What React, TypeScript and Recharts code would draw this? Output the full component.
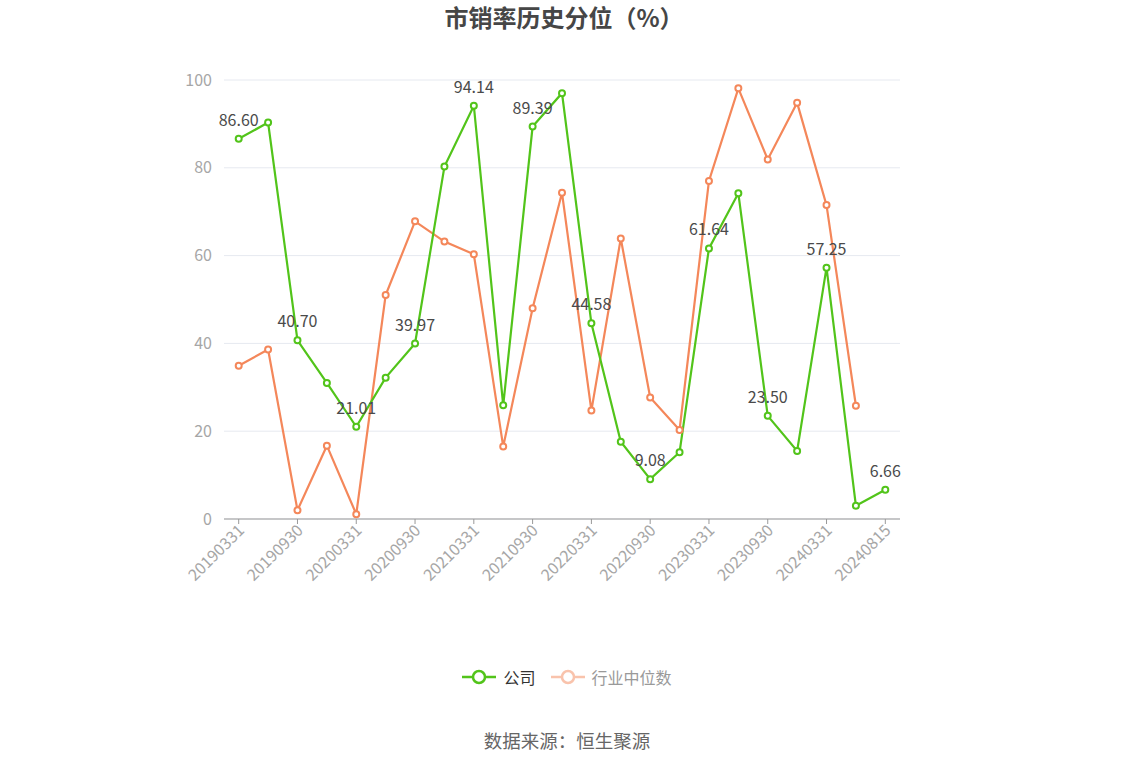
import React from 'react';
import { LineChart, Line, XAxis, YAxis, CartesianGrid } from 'recharts';

const dates = [
    '20190331', '20190630', '20190930', '20191231',
    '20200331', '20200630', '20200930', '20201231',
    '20210331', '20210630', '20210930', '20211231',
    '20220331', '20220630', '20220930', '20221231',
    '20230331', '20230630', '20230930', '20231231',
    '20240331', '20240630', '20240815',
];

const company = [
    86.6, 90.3, 40.7, 31.0, 21.01, 32.2, 39.97, 80.3,
    94.14, 25.9, 89.39, 97.0, 44.58, 17.6, 9.08, 15.2,
    61.64, 74.2, 23.5, 15.5, 57.25, 3.0, 6.66,
];

const industry = [
    34.9, 38.6, 2.0, 16.7, 1.1, 51.0, 67.8, 63.2,
    60.3, 16.5, 48.0, 74.3, 24.7, 63.9, 27.7, 20.3,
    77.0, 98.1, 81.9, 94.8, 71.5, 25.8, null,
];

const yTicks = [0, 20, 40, 60, 80, 100];

const GREEN = '#52c41a';
const ORANGE = '#f4875a';
const FONT = '"Noto Sans CJK SC", "Noto Sans", sans-serif';

const data = dates.map((d, i) => ({ date: d, company: company[i], industry: industry[i] }));

const DateTick = (props: any) => {
    const { x, y, payload } = props;
    return (
        <g transform={`translate(${x + 3},${y + 2})`}>
            <text textAnchor="end" fill="#a6a6a6" fontSize={16} fontFamily={FONT} transform="rotate(-45)" dy={5}>
                {payload.value}
            </text>
        </g>
    );
};

const ValueLabel = (props: any) => {
    const { x, y, index, value } = props;
    if (index % 2 !== 0) return null;
    return (
        <text x={x} y={y - 13} textAnchor="middle" fill="#4a4a4a" fontSize={16} fontFamily={FONT}>
            {Number(value).toFixed(2)}
        </text>
    );
};

const LegendIcon = ({ color }: { color: string }) => (
    <svg width={34} height={16} style={{ marginRight: 7 }}>
        <line x1={0} y1={8} x2={34} y2={8} stroke={color} strokeWidth={2.5} />
        <circle cx={17} cy={8} r={6} fill="#fff" stroke={color} strokeWidth={2.5} />
    </svg>
);

export default function App() {
    return (
        <div style={{ position: 'absolute', left: 0, top: 0, width: 1134, height: 766, background: '#fff', fontFamily: FONT }}>
            <div style={{ position: 'absolute', top: -1, left: 0, width: 1128, textAlign: 'center', fontSize: 24, fontWeight: 'bold', color: '#464646' }}>
                市销率历史分位（%）
            </div>
            <LineChart
                width={1134}
                height={766}
                data={data}
                margin={{ top: 80, right: 234, left: 164, bottom: 167 }}
            >
                <CartesianGrid vertical={false} stroke="#e6e9f0" />
                <XAxis
                    dataKey="date"
                    interval={1}
                    height={80}
                    padding={{ left: 14.7, right: 14.7 }}
                    tick={<DateTick />}
                    tickSize={5}
                    axisLine={{ stroke: '#999' }}
                    tickLine={{ stroke: '#999' }}
                />
                <YAxis
                    width={60}
                    domain={[0, 100]}
                    ticks={yTicks}
                    axisLine={false}
                    tickLine={false}
                    tickMargin={6}
                    tick={{ fill: '#a6a6a6', fontSize: 16, fontFamily: FONT }}
                />
                <Line
                    type="linear"
                    dataKey="industry"
                    stroke={ORANGE}
                    strokeWidth={2.2}
                    dot={{ r: 3, fill: '#fff', stroke: ORANGE, strokeWidth: 2 }}
                    isAnimationActive={false}
                />
                <Line
                    type="linear"
                    dataKey="company"
                    stroke={GREEN}
                    strokeWidth={2.2}
                    dot={{ r: 3, fill: '#fff', stroke: GREEN, strokeWidth: 2 }}
                    label={<ValueLabel />}
                    isAnimationActive={false}
                />
            </LineChart>
            <div style={{ position: 'absolute', top: 665, left: 0, width: 1134, display: 'flex', justifyContent: 'center', alignItems: 'center', fontSize: 16 }}>
                <LegendIcon color={GREEN} />
                <span style={{ color: '#333', marginRight: 15 }}>公司</span>
                <LegendIcon color="#f9c3ac" />
                <span style={{ color: '#999' }}>行业中位数</span>
            </div>
            <div style={{ position: 'absolute', top: 727, left: 0, width: 1134, textAlign: 'center', fontSize: 18.5, color: '#666' }}>
                数据来源：恒生聚源
            </div>
        </div>
    );
}
